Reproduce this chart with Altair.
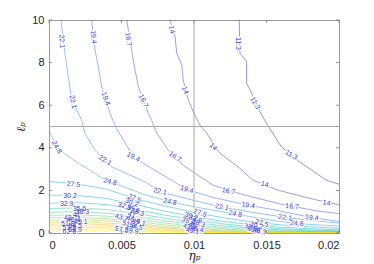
import altair as alt
import pandas as pd

# ---------------- data ----------------
LEVELS = [11.3, 14, 16.7, 19.4, 22.1, 24.8, 27.5, 30.2, 32.9, 35.6,
          38.3, 41, 43.7, 46.4, 49.1, 51.8, 54.5, 57.2, 59.9, 62.6]

C11_3_X = [0.01312, 0.01314, 0.01317, 0.01363, 0.01363, 0.01398, 0.01455, 0.01497, 0.01602, 0.01729, 0.01912, 0.0200]
C11_3_Y = [10.0, 9.2, 8.44, 8.05, 7.03, 6.56, 5.69, 5.18, 4.05, 3.34, 2.48, 2.29]

C14_X = [0.00834, 0.00850, 0.00869, 0.00881, 0.00915, 0.00925, 0.00961, 0.00995, 0.01041, 0.01088, 0.01179, 0.01310, 0.01407, 0.01579, 0.01832, 0.0200]
C14_Y = [10.0, 9.6, 9.22, 8.44, 7.9, 7.2, 6.24, 5.69, 5.07, 4.68, 3.74, 3.07, 2.48, 2.01, 1.57, 1.33]

C16_7_X = [0.00536, 0.0057, 0.00593, 0.00616, 0.00685, 0.00708, 0.00743, 0.00823, 0.00926, 0.01007, 0.01133, 0.01330, 0.01595, 0.01846, 0.0200]
C16_7_Y = [10.0, 8.6, 7.66, 6.87, 5.62, 5.30, 4.68, 3.89, 3.19, 2.80, 2.24, 1.82, 1.36, 1.04, 0.91]

C19_4_X = [0.00294, 0.00317, 0.0034, 0.00363, 0.00421, 0.0047, 0.00536, 0.00581, 0.00674, 0.00766, 0.0095, 0.01133, 0.01374, 0.01547, 0.01812, 0.0200]
C19_4_Y = [10.0, 8.6, 7.81, 6.87, 5.62, 4.85, 4.11, 3.56, 3.17, 2.80, 2.04, 1.67, 1.30, 1.10, 0.72, 0.55]

C22_1_X = [0.00083, 0.00099, 0.00133, 0.00157, 0.00225, 0.00248, 0.00317, 0.00432, 0.0055, 0.00662, 0.00766, 0.00995, 0.01193, 0.0145, 0.01641, 0.0185, 0.0200]
C22_1_Y = [10.0, 9.0, 7.34, 6.24, 5.30, 4.68, 3.89, 3.11, 2.75, 2.40, 1.93, 1.54, 1.21, 0.92, 0.72, 0.56, 0.47]

C24_8_X = [0.0, 0.00053, 0.0011, 0.00202, 0.0026, 0.00386, 0.00513, 0.0065, 0.00834, 0.0101, 0.01285, 0.0155, 0.01708, 0.0200]
C24_8_Y = [4.8, 4.03, 3.72, 3.27, 3.05, 2.48, 2.18, 1.82, 1.46, 1.22, 0.89, 0.58, 0.44, 0.32]

# lower, nearly horizontal contours read at these eta values
BOTTOM_X = [0.0, 0.002, 0.004, 0.006, 0.008, 0.010, 0.012, 0.014, 0.016, 0.018, 0.020]
C27_5_Y = [2.42, 2.30, 2.05, 1.60, 1.27, 0.97, 0.72, 0.52, 0.38, 0.29, 0.22]
C30_2_Y = [1.78, 1.76, 1.62, 1.33, 1.02, 0.77, 0.55, 0.38, 0.27, 0.20, 0.15]
C32_9_Y = [1.40, 1.42, 1.33, 1.10, 0.84, 0.62, 0.43, 0.29, 0.20, 0.14, 0.10]
C35_6_Y = [1.15, 1.18, 1.10, 0.92, 0.69, 0.50, 0.34, 0.22, 0.15, 0.10, 0.07]
C38_3_Y = [0.97, 1.00, 0.93, 0.77, 0.57, 0.40, 0.26, 0.16, 0.10, 0.07, 0.05]
C41_Y = [0.83, 0.85, 0.79, 0.65, 0.47, 0.31, 0.19, 0.11, 0.07, 0.05, 0.03]
C43_7_Y = [0.71, 0.73, 0.67, 0.54, 0.38, 0.24, 0.14, 0.07, 0.04, 0.03, 0.02]
C46_4_Y = [0.60, 0.62, 0.57, 0.45, 0.30, 0.18, 0.09, 0.04, 0.02, 0.01, 0.01]
C49_1_Y = [0.50, 0.52, 0.47, 0.37, 0.24, 0.12, 0.05, 0.02, 0.01, 0.005, 0.0]
C51_8_Y = [0.41, 0.43, 0.39, 0.29, 0.18, 0.08, 0.03, 0.01, 0.0, 0.0, 0.0]
C54_5_Y = [0.32, 0.35, 0.31, 0.23, 0.13, 0.05, 0.01, 0.0, 0.0, 0.0, 0.0]
C57_2_Y = [0.24, 0.27, 0.24, 0.17, 0.09, 0.03, 0.0, 0.0, 0.0, 0.0, 0.0]
C59_9_Y = [0.16, 0.19, 0.17, 0.11, 0.05, 0.01, 0.0, 0.0, 0.0, 0.0, 0.0]
C62_6_Y = [0.08, 0.11, 0.10, 0.06, 0.02, 0.0, 0.0, 0.0, 0.0, 0.0, 0.0]

# contour labels: text, eta, ell, rotation
LABELS = [
    ("22.1", 0.00088, 9.0, 85), ("19.4", 0.00306, 9.2, 85), ("16.7", 0.00547, 9.1, 80),
    ("14", 0.00846, 9.55, 80), ("11.3", 0.01306, 8.9, 90),
    ("22.1", 0.00165, 6.15, 78), ("19.4", 0.0039, 6.3, 70), ("16.7", 0.0065, 6.2, 65),
    ("14", 0.00938, 6.7, 70), ("11.3", 0.01421, 6.09, 60),
    ("24.8", 0.00053, 4.03, 60), ("22.1", 0.00386, 3.41, 32), ("19.4", 0.00581, 3.56, 28),
    ("16.7", 0.00869, 3.58, 35), ("14", 0.01133, 4.05, 45), ("11.3", 0.01671, 3.66, 30),
    ("27.5", 0.00168, 2.28, 4), ("24.8", 0.00421, 2.40, 15), ("22.1", 0.00766, 1.95, 12),
    ("19.4", 0.0095, 2.04, 16), ("16.7", 0.01238, 1.96, 10), ("14", 0.01488, 2.28, 12),
    ("14", 0.01915, 1.40, 5), ("30.2", 0.00145, 1.76, 0), ("32.9", 0.00122, 1.38, 0),
    ("24.8", 0.00834, 1.46, 12), ("22.1", 0.01193, 1.21, 10), ("19.4", 0.01374, 1.30, 8),
    ("24.8", 0.01285, 0.89, 10), ("16.7", 0.01676, 1.24, 5), ("22.1", 0.01628, 0.72, 8),
    ("19.4", 0.01812, 0.72, 5), ("24.8", 0.01708, 0.44, 5),
    ("27.5", 0.0059, 1.62, 22), ("27.5", 0.01041, 0.93, 20), ("27.5", 0.01467, 0.46, 15),
    # crowded clusters
    ("35.6", 0.0021, 1.12, 0), ("38.3", 0.0023, 0.97, 0), ("41", 0.0019, 0.84, 0),
    ("43.7", 0.0015, 0.72, 0), ("46.4", 0.0017, 0.60, 0), ("49.1", 0.0022, 0.50, 0),
    ("51.8", 0.0013, 0.42, 0), ("54.5", 0.0018, 0.32, 0), ("57.2", 0.0014, 0.22, 0),
    ("59.9", 0.0018, 0.12, 0), ("62.6", 0.0014, 0.03, 0),
    ("30.2", 0.0057, 1.42, 20), ("32.9", 0.0052, 1.25, 20), ("35.6", 0.0058, 1.12, 20),
    ("38.3", 0.0061, 0.98, 20), ("41", 0.0057, 0.85, 20), ("43.7", 0.0050, 0.72, 15),
    ("46.4", 0.0058, 0.62, 15), ("49.1", 0.0062, 0.50, 15), ("51.8", 0.0055, 0.40, 15),
    ("54.5", 0.0060, 0.30, 15), ("57.2", 0.0050, 0.15, 10), ("59.9", 0.0057, 0.10, 10),
    ("30.2", 0.0098, 0.78, 20), ("32.9", 0.0101, 0.65, 20), ("35.6", 0.0096, 0.55, 20),
    ("38.3", 0.0103, 0.45, 20), ("41", 0.0099, 0.35, 20), ("43.7", 0.0097, 0.27, 15),
    ("46.4", 0.0102, 0.18, 15), ("49.1", 0.0099, 0.09, 10),
    ("30.2", 0.0143, 0.35, 15), ("32.9", 0.0139, 0.25, 15), ("35.6", 0.0141, 0.15, 10),
    ("38.3", 0.0145, 0.08, 10),
]

XTICKS = [0, 0.005, 0.01, 0.015, 0.02]
YTICKS = [0, 2, 4, 6, 8, 10]
CROSS_X = [0.01]
CROSS_Y = [5.0]

# ---------------- styling helpers ----------------
PARULA = [(0.2422, 0.1504, 0.6603), (0.2810, 0.3228, 0.9579), (0.1540, 0.5902, 0.9218),
          (0.0297, 0.7082, 0.8163), (0.1938, 0.7758, 0.6251), (0.5044, 0.7993, 0.3480),
          (0.8634, 0.7406, 0.1596), (0.9892, 0.8136, 0.1885), (0.9769, 0.9839, 0.0805)]


def parula(t):
    t = min(max(t, 0.0), 1.0) * (len(PARULA) - 1)
    i = min(int(t), len(PARULA) - 2)
    f = t - i
    c = [PARULA[i][k] * (1 - f) + PARULA[i + 1][k] * f for k in range(3)]
    return "#%02x%02x%02x" % tuple(int(round(v * 255)) for v in c)


lo, hi = LEVELS[0], LEVELS[-1]
LEVEL_NAMES = [("%g" % v) for v in LEVELS]
COLORS = [parula((v - lo) / (hi - lo)) for v in LEVELS]

contours = [
    (11.3, C11_3_X, C11_3_Y), (14, C14_X, C14_Y), (16.7, C16_7_X, C16_7_Y),
    (19.4, C19_4_X, C19_4_Y), (22.1, C22_1_X, C22_1_Y), (24.8, C24_8_X, C24_8_Y),
    (27.5, BOTTOM_X, C27_5_Y), (30.2, BOTTOM_X, C30_2_Y), (32.9, BOTTOM_X, C32_9_Y),
    (35.6, BOTTOM_X, C35_6_Y), (38.3, BOTTOM_X, C38_3_Y), (41, BOTTOM_X, C41_Y),
    (43.7, BOTTOM_X, C43_7_Y), (46.4, BOTTOM_X, C46_4_Y), (49.1, BOTTOM_X, C49_1_Y),
    (51.8, BOTTOM_X, C51_8_Y), (54.5, BOTTOM_X, C54_5_Y), (57.2, BOTTOM_X, C57_2_Y),
    (59.9, BOTTOM_X, C59_9_Y), (62.6, BOTTOM_X, C62_6_Y),
]
rows = []
for lev, xs, ys in contours:
    for i, (a, b) in enumerate(zip(xs, ys)):
        rows.append({"lev": "%g" % lev, "x": a, "y": b, "i": i})
lines_df = pd.DataFrame(rows)
labels_df = pd.DataFrame(LABELS, columns=["text", "x", "y", "angle"])

W, H = 290, 213
FRAME = "#9a9a9a"

xscale = alt.Scale(domain=[0, 0.02], nice=False, zero=False)
yscale = alt.Scale(domain=[0, 10], nice=False, zero=False)
xaxis = alt.Axis(values=XTICKS, format="~g", title="ηₚ", domain=False, ticks=False, grid=False,
                 labelFont="Liberation Sans", labelFontSize=11, labelColor="#262626",
                 labelPadding=6, titleFont="DejaVu Serif", titleFontStyle="italic",
                 titleFontWeight="normal", titleFontSize=12, titleColor="#262626", titlePadding=0)
yaxis = alt.Axis(values=YTICKS, format="d", title="ℓₚ", domain=False, ticks=False, grid=False,
                 labelFont="Liberation Sans", labelFontSize=11, labelColor="#262626",
                 labelPadding=5, titleFont="DejaVu Serif", titleFontStyle="italic",
                 titleFontWeight="normal", titleFontSize=12, titleColor="#262626", titlePadding=4)
X = alt.X("x:Q", scale=xscale, axis=xaxis)
Y = alt.Y("y:Q", scale=yscale, axis=yaxis)

lines = alt.Chart(lines_df).mark_line(strokeWidth=0.5, clip=True).encode(
    x=X, y=Y,
    color=alt.Color("lev:N", scale=alt.Scale(domain=LEVEL_NAMES, range=COLORS), legend=None),
    detail="lev:N", order="i:Q")

halo = alt.Chart(labels_df).mark_text(font="Liberation Sans", fontSize=7, color="white",
                                       stroke="white", strokeWidth=2.2).encode(
    x=X, y=Y, text="text:N", angle=alt.Angle("angle:Q", scale=None))
texts = alt.Chart(labels_df).mark_text(font="Liberation Sans", fontSize=7, color="#3a3ad8").encode(
    x=X, y=Y, text="text:N", angle=alt.Angle("angle:Q", scale=None))

vline = alt.Chart(pd.DataFrame({"x": CROSS_X})).mark_rule(color="#a8a8a8", strokeWidth=1).encode(x=X)
hline = alt.Chart(pd.DataFrame({"y": CROSS_Y})).mark_rule(color="#a8a8a8", strokeWidth=1).encode(y=Y)

xt_bot = alt.Chart(pd.DataFrame({"x": XTICKS})).mark_rule(color="#777777", strokeWidth=0.8).encode(
    x=X, y=alt.value(H), y2=alt.value(H - 3))
xt_top = alt.Chart(pd.DataFrame({"x": XTICKS})).mark_rule(color="#777777", strokeWidth=0.8).encode(
    x=X, y=alt.value(0), y2=alt.value(3))
yt_left = alt.Chart(pd.DataFrame({"y": YTICKS})).mark_rule(color="#777777", strokeWidth=0.8).encode(
    y=Y, x=alt.value(0), x2=alt.value(3))
yt_right = alt.Chart(pd.DataFrame({"y": YTICKS})).mark_rule(color="#777777", strokeWidth=0.8).encode(
    y=Y, x=alt.value(W), x2=alt.value(W - 3))

chart = alt.layer(lines, vline, hline, halo, texts, xt_bot, xt_top, yt_left, yt_right).properties(
    width=W, height=H,
    autosize=alt.AutoSizeParams(type="none"),
    padding={"left": 41, "top": 12, "right": 27, "bottom": 31},
    background="white",
).configure_view(stroke=FRAME, strokeWidth=1)

chart.save("out.html", embed_options={"renderer": "svg", "actions": False})
